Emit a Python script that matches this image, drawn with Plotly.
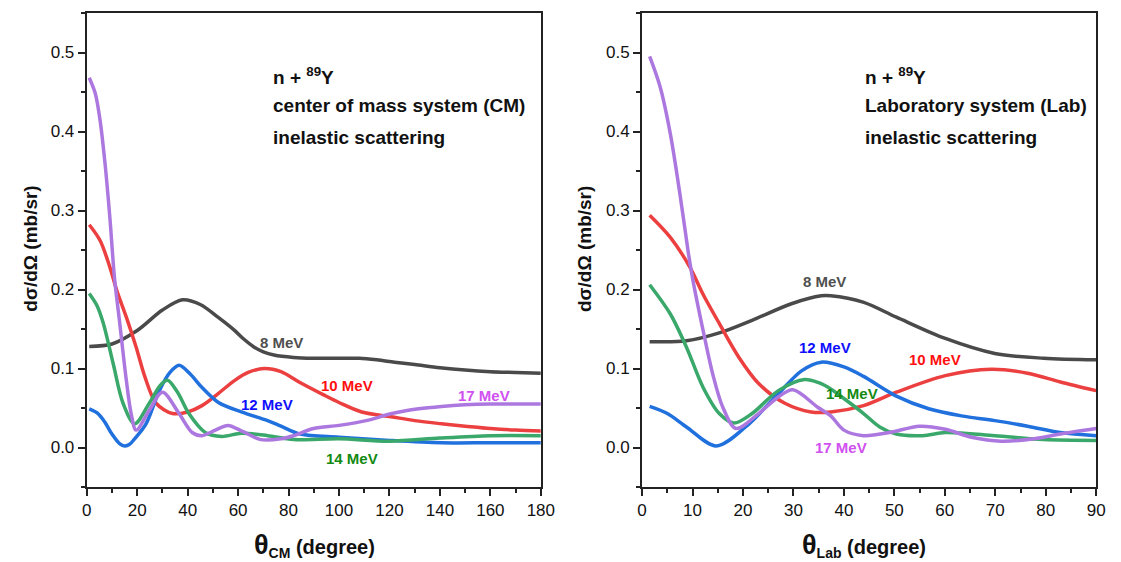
import plotly.graph_objects as go

# ---------------- data: centre-of-mass system ----------------
cm_8_x = [1, 10, 20, 30, 38, 45, 52, 58.7, 62, 66.4, 70, 74.2, 82, 90, 100, 108, 115, 122, 130, 140, 150, 160, 170, 180]
cm_8_y = [0.128, 0.131, 0.148, 0.174, 0.187, 0.181, 0.165, 0.148, 0.138, 0.127, 0.121, 0.117, 0.114, 0.113, 0.113, 0.113, 0.111, 0.108, 0.105, 0.101, 0.098, 0.096, 0.095, 0.094]

cm_10_x = [1, 5.3, 9.2, 12, 15.7, 19.6, 23, 27.5, 34, 40, 45.7, 52, 58.7, 64, 70.4, 77, 84.7, 93.7, 100, 109, 120.6, 130, 140.6, 150, 160, 170, 180]
cm_10_y = [0.282, 0.262, 0.228, 0.198, 0.165, 0.127, 0.090, 0.056, 0.043, 0.045, 0.053, 0.068, 0.085, 0.095, 0.100, 0.096, 0.082, 0.067, 0.057, 0.045, 0.039, 0.034, 0.030, 0.027, 0.024, 0.022, 0.021]

cm_12_x = [1, 4, 7, 10, 13, 15.1, 17, 19, 23.5, 28.8, 33, 36.6, 41, 45.7, 52.2, 61.3, 71.7, 77, 84.7, 100, 120, 140.6, 160, 180]
cm_12_y = [0.049, 0.044, 0.033, 0.017, 0.005, 0.002, 0.004, 0.011, 0.030, 0.072, 0.095, 0.104, 0.093, 0.076, 0.057, 0.045, 0.034, 0.027, 0.017, 0.013, 0.009, 0.006, 0.006, 0.006]

cm_14_x = [1, 4, 6.6, 10.5, 14.4, 19, 24.8, 29, 32, 36, 40.5, 47, 53.5, 61.3, 71.7, 82, 100, 120, 140, 160, 180]
cm_14_y = [0.195, 0.180, 0.157, 0.106, 0.056, 0.030, 0.056, 0.078, 0.085, 0.070, 0.043, 0.019, 0.014, 0.018, 0.015, 0.010, 0.011, 0.008, 0.012, 0.015, 0.015]

cm_17_x = [1, 3.4, 5.3, 7.3, 9.2, 11, 13.1, 15.7, 17.6, 19.6, 24.8, 30, 36.6, 41.8, 45.7, 51, 56, 62, 69, 77, 82, 89.9, 100, 110.8, 121, 131.6, 140.6, 149.8, 160, 170, 180]
cm_17_y = [0.468, 0.448, 0.414, 0.358, 0.290, 0.215, 0.157, 0.085, 0.043, 0.022, 0.047, 0.070, 0.043, 0.019, 0.015, 0.022, 0.028, 0.020, 0.010, 0.011, 0.015, 0.024, 0.028, 0.034, 0.043, 0.049, 0.052, 0.054, 0.055, 0.055, 0.055]

# ---------------- data: laboratory system ----------------
lab_8_x = [1.5, 8.8, 15.3, 21.8, 29.6, 35.5, 37.4, 43.8, 50.4, 60.1, 69.9, 79.6, 90]
lab_8_y = [0.134, 0.135, 0.145, 0.161, 0.182, 0.192, 0.192, 0.184, 0.165, 0.138, 0.119, 0.113, 0.111]

lab_10_x = [1.5, 5.6, 9.5, 12, 15.3, 19.2, 23.1, 28.3, 33.5, 37.4, 43.9, 50.4, 60.1, 69.2, 76.4, 82.9, 90]
lab_10_y = [0.294, 0.266, 0.228, 0.195, 0.157, 0.114, 0.081, 0.056, 0.045, 0.045, 0.053, 0.070, 0.091, 0.099, 0.094, 0.083, 0.072]

lab_12_x = [1.5, 5, 8.8, 14.7, 20.5, 27, 31.6, 35.5, 40, 43.9, 50.4, 56.8, 63.3, 69.9, 76.4, 82.9, 90]
lab_12_y = [0.052, 0.043, 0.026, 0.002, 0.026, 0.068, 0.097, 0.108, 0.102, 0.090, 0.065, 0.049, 0.040, 0.034, 0.027, 0.019, 0.015]

lab_14_x = [1.5, 5.6, 8.8, 12.1, 15.3, 18.2, 21.8, 27, 32.2, 35, 37.4, 40, 43.9, 47.1, 50.4, 55.6, 60.1, 69.9, 79.6, 90]
lab_14_y = [0.206, 0.169, 0.127, 0.076, 0.043, 0.031, 0.043, 0.072, 0.086, 0.082, 0.074, 0.062, 0.043, 0.026, 0.017, 0.015, 0.019, 0.015, 0.010, 0.009]

lab_17_x = [1.5, 3.6, 5.6, 7.5, 9.2, 10.1, 12.1, 14, 16, 18.6, 23.1, 27, 29.9, 34.8, 37.4, 40, 43.9, 49.1, 55, 60.1, 65.3, 71.2, 77.7, 82.9, 90]
lab_17_y = [0.495, 0.456, 0.397, 0.321, 0.245, 0.211, 0.148, 0.093, 0.051, 0.024, 0.043, 0.064, 0.073, 0.051, 0.040, 0.022, 0.015, 0.019, 0.027, 0.023, 0.013, 0.008, 0.011, 0.017, 0.024]

energies = ["8 MeV", "10 MeV", "12 MeV", "14 MeV", "17 MeV"]
line_colors = ["#4a4a4a", "#ec4040", "#2070dd", "#3aa86a", "#ac78e0"]
label_colors = ["#505050", "#ff1010", "#1010ff", "#138a13", "#d050f0"]

cm_series = [(cm_8_x, cm_8_y), (cm_10_x, cm_10_y), (cm_12_x, cm_12_y), (cm_14_x, cm_14_y), (cm_17_x, cm_17_y)]
lab_series = [(lab_8_x, lab_8_y), (lab_10_x, lab_10_y), (lab_12_x, lab_12_y), (lab_14_x, lab_14_y), (lab_17_x, lab_17_y)]

cm_label_pos = [(77.3, 0.133), (103, 0.078), (71.5, 0.055), (105, -0.014), (157.4, 0.066)]
lab_label_pos = [(36.2, 0.21), (58, 0.111), (36.2, 0.127), (41.7, 0.068), (39.4, 0.0)]

y_ticks = [0.0, 0.1, 0.2, 0.3, 0.4, 0.5]

info_cm_lines = ["n + <sup>89</sup>Y", "center of mass system (CM)", "inelastic scattering"]
info_lab_lines = ["n + <sup>89</sup>Y", "Laboratory system (Lab)", "inelastic scattering"]

# figure geometry (page body has an 8px margin; figure fills rest of the window)
W, H, OFF = 1113, 554, 8


def px(x):
    return (x - OFF) / W


def py(y):
    return 1 - (y - OFF) / H


FONT = "Liberation Sans, Arial, sans-serif"

fig = go.Figure()

for i, (x, y) in enumerate(cm_series):
    fig.add_trace(go.Scatter(x=x, y=y, mode="lines", line=dict(color=line_colors[i], width=3.5, shape="spline", smoothing=0.9),
                             xaxis="x", yaxis="y", showlegend=False, name=energies[i]))
for i, (x, y) in enumerate(lab_series):
    fig.add_trace(go.Scatter(x=x, y=y, mode="lines", line=dict(color=line_colors[i], width=3.5, shape="spline", smoothing=0.9),
                             xaxis="x2", yaxis="y2", showlegend=False, name=energies[i]))

annotations = []
for i, (lx, ly) in enumerate(cm_label_pos):
    annotations.append(dict(x=lx, y=ly, xref="x", yref="y", text="<b>%s</b>" % energies[i], showarrow=False,
                            font=dict(family=FONT, size=15, color=label_colors[i])))
for i, (lx, ly) in enumerate(lab_label_pos):
    annotations.append(dict(x=lx, y=ly, xref="x2", yref="y2", text="<b>%s</b>" % energies[i], showarrow=False,
                            font=dict(family=FONT, size=15, color=label_colors[i])))

for j, yy in enumerate([76, 106, 137]):
    annotations.append(dict(x=px(270), y=py(yy), xref="paper", yref="paper", xanchor="left", yanchor="middle",
                            text="<b>%s</b>" % info_cm_lines[j], showarrow=False,
                            font=dict(family=FONT, size=19, color="#111")))
    annotations.append(dict(x=px(873), y=py(yy), xref="paper", yref="paper", xanchor="left", yanchor="middle",
                            text="<b>%s</b>" % info_lab_lines[j], showarrow=False,
                            font=dict(family=FONT, size=19, color="#111")))

# axis titles
annotations.append(dict(x=px(315), y=py(545), xref="paper", yref="paper", xanchor="center", yanchor="middle",
                        showarrow=False,
                        text="<b><span style='font-size:27px'>θ</span><sub>CM</sub> (degree)</b>",
                        font=dict(family=FONT, size=20, color="#111")))
annotations.append(dict(x=px(874), y=py(545), xref="paper", yref="paper", xanchor="center", yanchor="middle",
                        showarrow=False,
                        text="<b><span style='font-size:27px'>θ</span><sub>Lab</sub> (degree)</b>",
                        font=dict(family=FONT, size=20, color="#111")))
annotations.append(dict(x=px(26), y=py(249), xref="paper", yref="paper", xanchor="center", yanchor="middle",
                        showarrow=False, textangle=-90,
                        text="<b>dσ/dΩ (mb/sr)</b>", font=dict(family=FONT, size=19, color="#111")))
annotations.append(dict(x=px(590), y=py(249), xref="paper", yref="paper", xanchor="center", yanchor="middle",
                        showarrow=False, textangle=-90,
                        text="<b>dσ/dΩ (mb/sr)</b>", font=dict(family=FONT, size=19, color="#111")))

axis_common = dict(showline=True, linecolor="#222", linewidth=2, mirror=True, ticks="outside", ticklen=7,
                   tickwidth=1.5, tickcolor="#222", showgrid=False, zeroline=False,
                   tickfont=dict(family=FONT, size=17, color="#111"))

ydom = [py(487), py(13)]
fig.update_layout(
    width=W, height=H, margin=dict(l=0, r=0, t=0, b=0), autosize=False,
    paper_bgcolor="white", plot_bgcolor="white",
    xaxis=dict(domain=[px(83), px(545)], range=[0, 180], tickvals=list(range(0, 181, 20)),
               minor=dict(ticks="outside", ticklen=4, tickcolor="#222", dtick=10, tick0=0), anchor="y", **axis_common),
    yaxis=dict(domain=ydom, range=[-0.05, 0.55], tickvals=y_ticks, tickformat=".1f",
               minor=dict(ticks="outside", ticklen=4, tickcolor="#222", dtick=0.05, tick0=0), anchor="x", **axis_common),
    xaxis2=dict(domain=[px(648), px(1110)], range=[0, 90], tickvals=list(range(0, 91, 10)),
                minor=dict(ticks="outside", ticklen=4, tickcolor="#222", dtick=5, tick0=0), anchor="y2", **axis_common),
    yaxis2=dict(domain=ydom, range=[-0.05, 0.55], tickvals=y_ticks, tickformat=".1f",
                minor=dict(ticks="outside", ticklen=4, tickcolor="#222", dtick=0.05, tick0=0), anchor="x2", **axis_common),
    annotations=annotations,
)

fig.write_html("out.html")
